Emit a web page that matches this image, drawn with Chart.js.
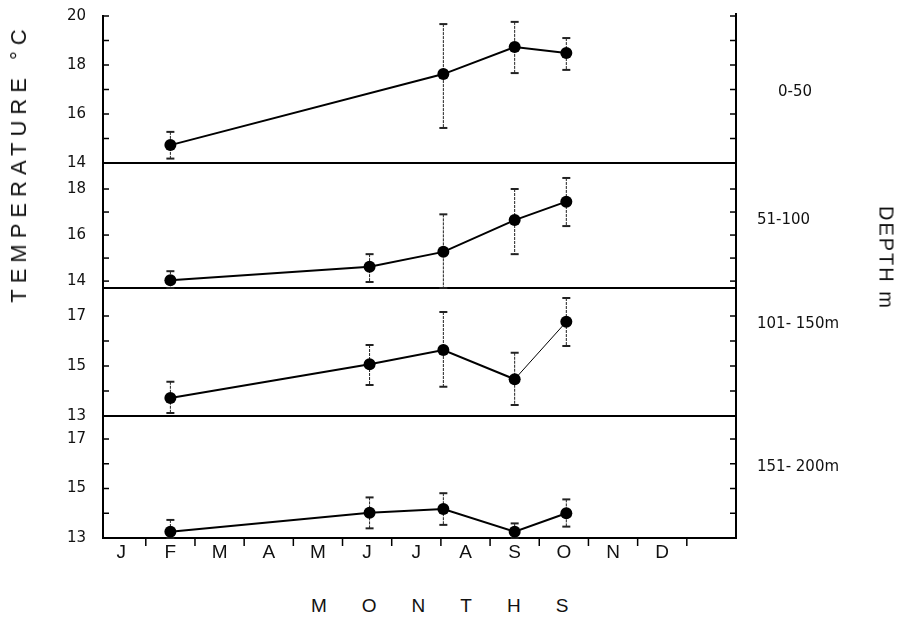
<!DOCTYPE html>
<html>
<head>
<meta charset="utf-8">
<script src="https://cdn.jsdelivr.net/npm/chart.js@4.4.0/dist/chart.umd.min.js"></script>
<style>
  body { margin: 0; background: #fff; width: 906px; height: 634px; position: relative; overflow: hidden; color: #111; }
  canvas { position: absolute; left: 0; }
  .lbl { position: absolute; white-space: nowrap; line-height: 1; }
  .depth { font: 15px 'DejaVu Sans', sans-serif; }
</style>
</head>
<body>
<canvas id="p0"></canvas>
<canvas id="p1"></canvas>
<canvas id="p2"></canvas>
<canvas id="p3"></canvas>

<div class="lbl" style="left:19px; top:163px; font:22px 'Liberation Sans', sans-serif; letter-spacing:6px; transform:translate(-50%,-50%) rotate(-90deg);">TEMPERATURE °C</div>
<div class="lbl" style="left:886px; top:258px; font:20px 'Liberation Sans', sans-serif; letter-spacing:2px; transform:translate(-50%,-50%) rotate(90deg);">DEPTH m</div>
<div class="lbl depth" style="left:778px; top:82px;">0-50</div>
<div class="lbl depth" style="left:757px; top:210px;">51-100</div>
<div class="lbl depth" style="left:757px; top:314px;">101- 150m</div>
<div class="lbl depth" style="left:757px; top:457px;">151- 200m</div>
<div class="lbl" style="left:311px; top:595px; font:19px 'Liberation Sans', sans-serif; letter-spacing:35px;">MONTHS</div>

<script>
// Month axis (J = 0)
const months = ['J', 'F', 'M', 'A', 'M', 'J', 'J', 'A', 'S', 'O', 'N', 'D'];
// Sampling dates as month positions
const sampleMonths = [1, 5.05, 6.55, 8, 9.05];

// 0-50 m
const temp0_50 = [14.73, null, 17.63, 18.73, 18.49];
const low0_50 = [14.18, null, 15.43, 17.67, 17.8];
const high0_50 = [15.27, null, 19.67, 19.76, 19.1];

// 51-100 m
const temp51_100 = [14.04, 14.62, 15.27, 16.65, 17.45];
const low51_100 = [13.7, 13.96, 13.7, 15.17, 16.39];
const high51_100 = [14.43, 15.17, 16.9, 18.0, 18.48];

// 101-150 m
const temp101_150 = [13.72, 15.07, 15.64, 14.47, 16.77];
const low101_150 = [13.12, 14.24, 14.17, 13.44, 15.8];
const high101_150 = [14.37, 15.84, 17.16, 15.53, 17.72];

// 151-200 m
const temp151_200 = [13.25, 14.02, 14.17, 13.25, 14.0];
const low151_200 = [13.0, 13.39, 13.53, 13.0, 13.46];
const high151_200 = [13.73, 14.64, 14.81, 13.59, 14.56];

// Y axes per panel
const yMin = [14, 13.7, 13, 13];
const yMax = [20, 19.13, 18.12, 17.93];
const yTicks = [[14, 15, 16, 17, 18, 19, 20], [14, 15, 16, 17, 18], [13, 14, 15, 16, 17], [13, 14, 15, 16, 17]];
const yTickLabels = [[14, 16, 18, 20], [14, 16, 18], [13, 15, 17], [13, 15, 17]];
const xMin = -0.37;
const xMax = 12.5;

// Layout (page pixels)
const panels = [
    { top: 16, bottom: 163 },
    { top: 163, bottom: 288 },
    { top: 288, bottom: 416 },
    { top: 416, bottom: 538 }
];
const LEFT = 103;
const RIGHT = 736;
const X_AXIS_H = 32;

function line(ctx, x1, y1, x2, y2) {
    ctx.beginPath();
    ctx.moveTo(x1, y1);
    ctx.lineTo(x2, y2);
    ctx.stroke();
}

// Error bars, right-hand axis, inward ticks
const framePlugin = {
    id: 'frame',
    beforeDatasetsDraw(chart) {
        const { ctx, scales: { x, y } } = chart;
        ctx.save();
        ctx.strokeStyle = '#222';
        chart.data.datasets.forEach(ds => {
            ds.data.forEach((pt, k) => {
                if (ds.errLow[k] == null) return;
                const px = x.getPixelForValue(pt.x);
                const top = y.getPixelForValue(ds.errHigh[k]);
                const bot = y.getPixelForValue(ds.errLow[k]);
                ctx.lineWidth = 1;
                ctx.setLineDash([3, 1]);
                line(ctx, px, top, px, bot);
                ctx.setLineDash([]);
                ctx.lineWidth = 2;
                line(ctx, px - 4, top, px + 4, top);
                line(ctx, px - 4, bot, px + 4, bot);
            });
        });
        ctx.restore();
    },
    afterDraw(chart) {
        const { ctx, chartArea: a, scales: { x, y } } = chart;
        ctx.save();
        ctx.strokeStyle = '#000';
        ctx.lineWidth = 2;
        line(ctx, a.right, a.top - (chart.options.extendTop || 0), a.right, a.bottom);
        ctx.lineWidth = 1.5;
        y.ticks.forEach(t => {
            const py = y.getPixelForValue(t.value);
            line(ctx, a.left, py, a.left + 6, py);
            line(ctx, a.right - 6, py, a.right, py);
        });
        if (chart.options.monthTicks) {
            months.forEach((m, k) => {
                const px = x.getPixelForValue(k + 0.5);
                line(ctx, px, a.bottom, px, a.bottom + 8);
            });
        }
        ctx.restore();
    }
};

function panelConfig(i, temps, lows, highs, segWidth) {
    const last = i === panels.length - 1;
    return {
        type: 'line',
        data: {
            datasets: [{
                data: sampleMonths.map((m, k) => ({ x: m, y: temps[k] })),
                errLow: lows,
                errHigh: highs,
                borderColor: '#000',
                borderWidth: 2,
                segment: { borderWidth: segWidth },
                pointRadius: 6,
                pointBackgroundColor: '#000',
                pointBorderWidth: 0,
                spanGaps: true,
                tension: 0
            }]
        },
        options: {
            responsive: false,
            maintainAspectRatio: false,
            animation: false,
            extendTop: i === 0 ? 3 : 0,
            monthTicks: last,
            layout: { padding: { top: 0, bottom: 0, left: 0, right: 906 - RIGHT } },
            plugins: {
                legend: { display: false },
                tooltip: { enabled: false }
            },
            scales: {
                x: {
                    type: 'linear',
                    min: xMin,
                    max: xMax,
                    afterBuildTicks: s => { s.ticks = months.map((m, k) => ({ value: k })); },
                    afterFit: s => { s.height = last ? X_AXIS_H : 0; },
                    grid: { display: false, drawTicks: false },
                    border: { display: true, color: '#000', width: 2 },
                    ticks: {
                        display: last,
                        autoSkip: false,
                        maxRotation: 0,
                        padding: 3,
                        color: '#111',
                        font: { family: "'Liberation Sans', sans-serif", size: 19 },
                        callback: v => months[v]
                    }
                },
                y: {
                    min: yMin[i],
                    max: yMax[i],
                    afterBuildTicks: s => { s.ticks = yTicks[i].map(v => ({ value: v })); },
                    afterFit: s => { s.width = LEFT; },
                    grid: { display: false, drawTicks: false },
                    border: { display: true, color: '#000', width: 2 },
                    ticks: {
                        padding: 17,
                        color: '#111',
                        font: { family: "'DejaVu Sans', sans-serif", size: 15 },
                        callback: v => yTickLabels[i].includes(v) ? v : ''
                    }
                }
            }
        },
        plugins: [framePlugin]
    };
}

// Build once to measure the margins round the plot area, then rebuild so
// the plot area lands exactly on the panel's rows
function makePanel(i, temps, lows, highs, segWidth) {
    const p = panels[i];
    const cv = document.getElementById('p' + i);
    cv.width = 906;
    cv.height = 300;
    let chart = new Chart(cv, panelConfig(i, temps, lows, highs, segWidth));
    const t = chart.chartArea.top;
    const b = 300 - chart.chartArea.bottom;
    chart.destroy();
    cv.width = 906;
    cv.height = p.bottom - p.top + t + b;
    chart = new Chart(cv, panelConfig(i, temps, lows, highs, segWidth));
    cv.style.top = (p.top - chart.chartArea.top) + 'px';
    return chart;
}

makePanel(0, temp0_50, low0_50, high0_50, 2);
makePanel(1, temp51_100, low51_100, high51_100, 2);
// last leg of the 101-150 m line is drawn thin in the original
makePanel(2, temp101_150, low101_150, high101_150, c => c.p1DataIndex === 4 ? 1 : 2);
makePanel(3, temp151_200, low151_200, high151_200, 2);
</script>
</body>
</html>
